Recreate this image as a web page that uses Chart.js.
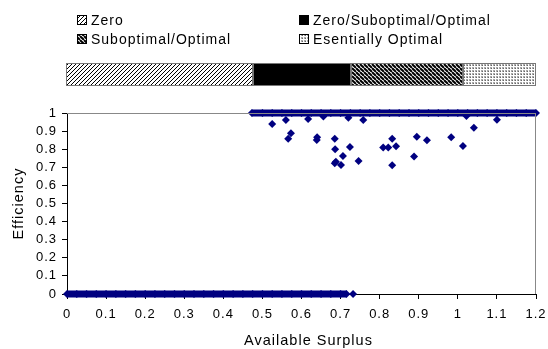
<!DOCTYPE html>
<html><head><meta charset="utf-8">
<script src="https://cdn.jsdelivr.net/npm/chart.js@4"></script>
<style>html,body{margin:0;padding:0;background:#fff}</style>
</head><body>
<canvas id="c" width="548" height="349"></canvas>
<script>
// ---- data ----
const xTickValues = [0,0.1,0.2,0.3,0.4,0.5,0.6,0.7,0.8,0.9,1,1.1,1.2];
const yTickValues = [0,0.1,0.2,0.3,0.4,0.5,0.6,0.7,0.8,0.9,1];
// dense band of observations with efficiency 0
const zeroBandX = [0,0.025,0.05,0.075,0.1,0.125,0.15,0.175,0.2,0.225,0.25,0.275,0.3,0.325,0.35,0.375,0.4,0.425,0.45,0.475,0.5,0.525,0.55,0.575,0.6,0.625,0.65,0.675,0.7,0.715];
const zeroBandY = zeroBandX.map(() => 0);
const zeroLastX = [0.732];
const zeroLastY = [0];
// dense band of observations with efficiency 1
const oneBandX = [0.473,0.5,0.525,0.55,0.575,0.6,0.625,0.65,0.675,0.7,0.725,0.75,0.775,0.8,0.825,0.85,0.875,0.9,0.925,0.95,0.975,1,1.025,1.05,1.075,1.1,1.125,1.15,1.175,1.2];
const oneBandY = oneBandX.map(() => 1);
// scattered suboptimal observations
const scatterX = [0.525,0.56,0.566,0.573,0.617,0.639,0.640,0.656,0.685,0.686,0.706,0.724,0.685,0.688,0.701,0.746,0.72,0.758,0.809,0.822,0.842,0.832,0.832,0.895,0.921,0.888,0.983,1.013,1.041,1.100,1.022];
const scatterY = [0.939,0.961,0.858,0.888,0.967,0.851,0.866,0.98,0.858,0.80,0.762,0.812,0.722,0.731,0.713,0.735,0.974,0.961,0.81,0.81,0.816,0.858,0.711,0.869,0.849,0.759,0.866,0.818,0.919,0.963,0.983];
// regime bar above the chart
const regimeNames = ["Zero","Zero/Suboptimal/Optimal","Suboptimal/Optimal","Esentially Optimal"];
const regimeStart = [0,0.476,0.727,1.013];
const regimeEnd = [0.476,0.727,1.013,1.2];
const xTitle = 'Available Surplus';
const yTitle = 'Efficiency';

const NAVY = '#000080';
const FONT = '"Liberation Sans", Arial, sans-serif';
const pts = (xs, ys) => xs.map((x, i) => ({x, y: ys[i]}));

// ---- patterns ----
function makeTile(w, h, draw) {
  const c = document.createElement('canvas'); c.width = w; c.height = h;
  const g = c.getContext('2d'); draw(g, w, h); return c;
}
function hatchTile(forward, size, lw, bg) {
  return makeTile(size, size, (g, w, h) => {
    g.fillStyle = bg; g.fillRect(0, 0, w, h);
    g.strokeStyle = '#000'; g.lineWidth = lw;
    g.beginPath();
    for (let k = -1; k <= 1; k++) {
      if (forward) { g.moveTo(k*w, h); g.lineTo(k*w + w, 0); }
      else { g.moveTo(k*w, 0); g.lineTo(k*w + w, h); }
    }
    g.stroke();
  });
}
const dotTile = makeTile(3, 3, (g) => {
  g.fillStyle = '#fff'; g.fillRect(0, 0, 3, 3);
  g.fillStyle = '#aaa'; g.fillRect(1, 1, 2, 2);
  g.fillStyle = '#666'; g.fillRect(2, 2, 1, 1);
});
const tiles = [hatchTile(true, 4, 1, '#fff'), null, hatchTile(false, 4, 2, '#fff'), dotTile];

const spacingPlugin = {
  id: 'spacing',
  beforeLayout(chart) { chart.ctx.letterSpacing = '1px'; },
  beforeDraw(chart) { chart.ctx.letterSpacing = '1px'; }
};

const regimePlugin = {
  id: 'regimes',
  afterDraw(chart) {
    const ctx = chart.ctx, xs = chart.scales.x, ca = chart.chartArea;
    ctx.save();
    const fills = tiles.map(t => t ? ctx.createPattern(t, 'repeat') : '#000');
    // plot frame top & right
    ctx.strokeStyle = '#888'; ctx.lineWidth = 1;
    ctx.beginPath();
    ctx.moveTo(ca.left, ca.top + 0.5); ctx.lineTo(ca.right, ca.top + 0.5);
    ctx.moveTo(ca.right - 0.5, ca.top); ctx.lineTo(ca.right - 0.5, ca.bottom);
    ctx.stroke();
    // x axis title (slightly right of centre, as in the original)
    ctx.font = '14.5px ' + FONT;
    ctx.letterSpacing = '1px';
    ctx.fillStyle = '#000';
    ctx.textAlign = 'center'; ctx.textBaseline = 'middle';
    ctx.fillText(xTitle, (ca.left + ca.right) / 2 + 7, 341);
    // bar
    const top = 63, bot = 86;
    regimeStart.forEach((s, i) => {
      const l = Math.round(xs.getPixelForValue(s)) - (i === 0 ? 1 : 0);
      const r = Math.round(xs.getPixelForValue(regimeEnd[i]));
      ctx.fillStyle = fills[i];
      ctx.fillRect(l, top, r - l, bot - top);
      ctx.strokeStyle = '#777';
      ctx.strokeRect(l + 0.5, top + 0.5, r - l - 1, bot - top - 1);
    });
    // legend
    const pos = [[77, 20], [299, 20], [77, 39], [299, 39]];
    ctx.font = '14px ' + FONT;
    ctx.textBaseline = 'middle'; ctx.textAlign = 'left';
    regimeNames.forEach((n, i) => {
      const [bx, cy] = pos[i];
      ctx.fillStyle = fills[i];
      ctx.fillRect(bx, cy - 5, 10, 10);
      ctx.strokeStyle = '#000';
      ctx.strokeRect(bx + 0.5, cy - 4.5, 9, 9);
      ctx.fillStyle = '#000';
      ctx.fillText(n, bx + 14, cy + 1);
    });
    ctx.restore();
  }
};

const tickFont = {family: FONT, size: 13};
const titleFont = {family: FONT, size: 14.5};

new Chart(document.getElementById('c'), {
  type: 'scatter',
  data: {
    datasets: [
      {label: 'zero band', data: pts(zeroBandX, zeroBandY), showLine: true, borderColor: NAVY, borderWidth: 7, backgroundColor: NAVY, pointStyle: 'rectRot', pointRadius: 4, pointBorderWidth: 0, clip: false},
      {label: 'zero last', data: pts(zeroLastX, zeroLastY), borderColor: NAVY, backgroundColor: NAVY, pointStyle: 'rectRot', pointRadius: 4, pointBorderWidth: 0, clip: false},
      {label: 'one band', data: pts(oneBandX, oneBandY), showLine: true, borderColor: NAVY, borderWidth: 7, backgroundColor: NAVY, pointStyle: 'rectRot', pointRadius: 4, pointBorderWidth: 0, clip: false},
      {label: 'scatter', data: pts(scatterX, scatterY), borderColor: NAVY, backgroundColor: NAVY, pointStyle: 'rectRot', pointRadius: 4, pointBorderWidth: 0, clip: false}
    ]
  },
  options: {
    responsive: false, animation: false, events: [],
    layout: {padding: {top: 113, right: 12, left: 0, bottom: 0}},
    plugins: {legend: {display: false}, tooltip: {enabled: false}},
    scales: {
      x: {
        type: 'linear', min: 0, max: 1.2,
        afterBuildTicks: s => { s.ticks = xTickValues.map(v => ({value: v})); },
        afterFit: s => { s.height = 55; s.paddingLeft = 0; s.paddingRight = 0; },
        ticks: {color: '#000', font: tickFont, padding: 8, maxRotation: 0, autoSkip: false,
          callback: v => String(Math.round(v * 10) / 10)},
        grid: {drawOnChartArea: false, drawTicks: true, tickLength: 5, tickColor: '#000'},
        border: {color: '#000', width: 1},
        title: {display: false}
      },
      y: {
        type: 'linear', min: 0, max: 1,
        afterBuildTicks: s => { s.ticks = yTickValues.map(v => ({value: v})); },
        afterFit: s => { s.width = 67; s.paddingTop = 0; s.paddingBottom = 0; },
        ticks: {color: '#000', font: tickFont, padding: 5, autoSkip: false,
          callback: v => String(Math.round(v * 10) / 10)},
        grid: {drawOnChartArea: false, drawTicks: true, tickLength: 5, tickColor: '#000'},
        border: {color: '#000', width: 1},
        title: {display: true, text: yTitle, color: '#000', font: titleFont, padding: {top: 10, bottom: 0}}
      }
    }
  },
  plugins: [spacingPlugin, regimePlugin]
});
</script>
</body></html>
